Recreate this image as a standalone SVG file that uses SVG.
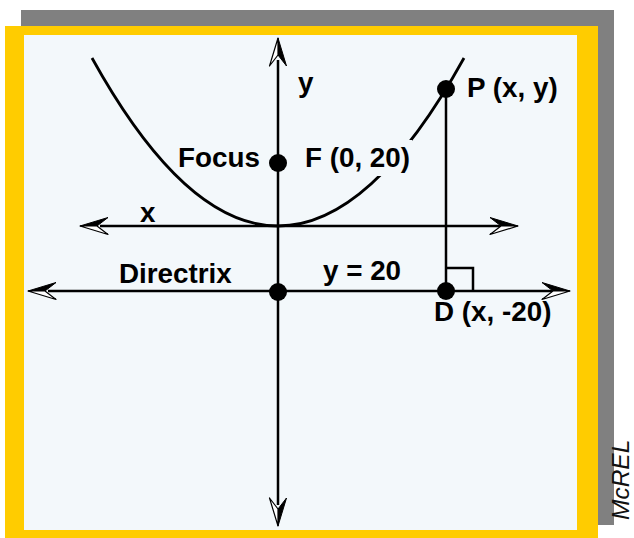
<svg xmlns="http://www.w3.org/2000/svg" xmlns:xlink="http://www.w3.org/1999/xlink" width="634" height="538" viewBox="0 0 634 538">
<style>
.ax{stroke:#000;stroke-width:2.5;fill:none}
.lbl{font-family:"Liberation Sans",Arial,sans-serif;font-weight:bold;font-size:27.8px;fill:#000}
.dot{fill:#000}
</style>
<defs>
<g id="ah">
<path d="M0,0 L-28,-8.5 L-17,0 Z" fill="#000" stroke="#000" stroke-width="1" stroke-linejoin="round"/>
<path d="M0,0 L-17,0 L-28,8.5 Z" fill="#fff" stroke="#000" stroke-width="1.2" stroke-linejoin="round"/>
</g>
</defs>
<g id="frame">
<rect x="21" y="10" width="593" height="515" fill="#808080"/>
<rect x="5" y="26" width="593" height="512" fill="#FFCC00"/>
<rect x="24" y="35" width="553" height="495" fill="#F3F8FB"/>
</g>
<g id="connectors">
<line class="ax" x1="278" y1="60" x2="278" y2="505"/>
<line class="ax" x1="100" y1="226" x2="500" y2="226"/>
<line class="ax" x1="48" y1="291" x2="552" y2="291"/>
<line class="ax" x1="446" y1="90" x2="446" y2="291"/>
<polyline class="ax" points="446,268 473,268 473,291" stroke-width="2.2"/>
<use xlink:href="#ah" transform="translate(518,226)"/>
<use xlink:href="#ah" transform="translate(80,226) scale(-1,1)"/>
<use xlink:href="#ah" transform="translate(570,291)"/>
<use xlink:href="#ah" transform="translate(28,291) scale(-1,1)"/>
<use xlink:href="#ah" transform="matrix(0,-1,-1,0,278,38)"/>
<use xlink:href="#ah" transform="matrix(0,1,-1,0,278,526)"/>
</g>
<g id="parabola">
<path d="M92,58 Q278,394 464,58" fill="none" stroke="#000" stroke-width="2.8"/>
</g>
<g id="focus">
<rect x="300" y="140" width="112" height="36" fill="#F3F8FB"/>
<circle class="dot" cx="278" cy="163" r="9"/>
<text class="lbl" x="178" y="167">Focus</text>
<text class="lbl" x="305" y="167">F (0, 20)</text>
</g>
<g id="point-p">
<circle class="dot" cx="446" cy="89" r="9"/>
<text class="lbl" x="467" y="97">P (x, y)</text>
</g>
<g id="directrix">
<circle class="dot" cx="278" cy="292" r="9"/>
<text class="lbl" x="119" y="283">Directrix</text>
<text class="lbl" x="323" y="280">y = 20</text>
</g>
<g id="point-d">
<circle class="dot" cx="446" cy="291" r="9"/>
<text class="lbl" x="434" y="321">D (x, -20)</text>
</g>
<g id="axis-labels">
<text class="lbl" x="298" y="92">y</text>
<text class="lbl" x="140" y="222">x</text>
</g>
<text x="0" y="0" transform="translate(629,520) rotate(-90)" font-family="Liberation Sans,Arial,sans-serif" font-style="italic" font-size="24.5" fill="#111">McREL</text>
</svg>
